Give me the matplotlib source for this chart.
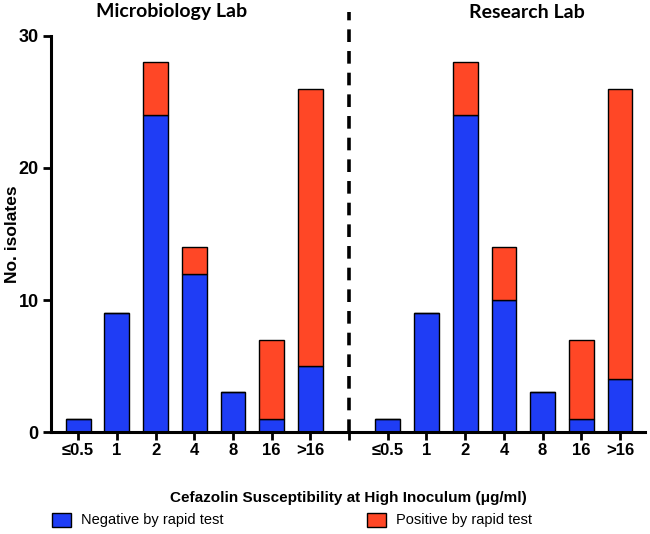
import matplotlib
matplotlib.use("Agg")
import matplotlib.pyplot as plt
from matplotlib.patches import Patch
import numpy as np

# MIC categories (same for both labs)
categories = ["≤0.5", "1", "2", "4", "8", "16", ">16"]

# Microbiology Lab counts
micro_neg = [1, 9, 24, 12, 3, 1, 5]
micro_pos = [0, 0, 4, 2, 0, 6, 21]

# Research Lab counts
research_neg = [1, 9, 24, 10, 3, 1, 4]
research_pos = [0, 0, 4, 4, 0, 6, 22]

panel_titles = ["Microbiology Lab", "Research Lab"]

BLUE = "#1f3df5"
RED = "#ff4726"

fig = plt.figure(figsize=(6.5, 5.34), dpi=100)
ax = fig.add_axes([0.0785, 0.191, 0.9135, 0.7416])

n = len(categories)
x_left = np.arange(n)
x_right = np.arange(n) + n + 1
bar_w = 0.64

for xs, neg, pos in [(x_left, micro_neg, micro_pos), (x_right, research_neg, research_pos)]:
    ax.bar(xs, neg, width=bar_w, color=BLUE, edgecolor="black", linewidth=1.0)
    ax.bar(xs, pos, bottom=neg, width=bar_w, color=RED, edgecolor="black", linewidth=1.0)

# divider between the two labs
ax.axvline(n, ymin=0, ymax=1.06, color="black", linestyle=(0, (3.5, 2.5)),
           linewidth=2.6, clip_on=False)

ticks = list(x_left) + [n] + list(x_right)
ax.set_xticks(ticks)
ax.set_xticklabels(categories + [""] + categories, fontfamily="Liberation Sans",
                   fontweight="bold", fontsize=12)
ax.set_xlim(-0.70, 14.64)
ax.set_ylim(0, 30)
ax.set_yticks([0, 10, 20, 30])
ax.set_yticklabels(["0", "10", "20", "30"], fontfamily="Liberation Sans",
                   fontweight="bold", fontsize=13)

for s in ["top", "right"]:
    ax.spines[s].set_visible(False)
for s in ["left", "bottom"]:
    ax.spines[s].set_linewidth(2.2)
ax.tick_params(axis="both", direction="out", length=6, width=2.0)
ax.tick_params(axis="x", pad=2)
ax.tick_params(axis="y", pad=3)

ax.set_ylabel("No. isolates", fontfamily="Liberation Sans", fontweight="bold",
              fontsize=12.5)
ax.yaxis.set_label_coords(-0.052, 0.5)
ax.set_xlabel("Cefazolin Susceptibility at High Inoculum (μg/ml)",
              fontfamily="Liberation Sans", fontweight="bold", fontsize=11)
ax.xaxis.set_label_coords(0.5, -0.15)

# panel titles
fig.text(171.7 / 650, 1 - 12 / 534, panel_titles[0], ha="center", va="center",
         fontfamily="Lato", fontweight="bold", fontsize=14)
fig.text(526.7 / 650, 1 - 12 / 534, panel_titles[1], ha="center", va="center",
         fontfamily="Lato", fontweight="bold", fontsize=14)

leg_kw = dict(frameon=False, handlelength=1.3, handleheight=1.1,
              handletextpad=0.7, borderaxespad=0,
              prop={"family": "Liberation Sans", "size": 10.5})
fig.legend(handles=[Patch(facecolor=BLUE, edgecolor="black", linewidth=1.0,
                          label="Negative by rapid test")],
           loc="center left", bbox_to_anchor=(46 / 650, 1 - 520 / 534), **leg_kw)
fig.legend(handles=[Patch(facecolor=RED, edgecolor="black", linewidth=1.0,
                          label="Positive by rapid test")],
           loc="center left", bbox_to_anchor=(361 / 650, 1 - 520 / 534), **leg_kw)

fig.savefig("out.png", dpi=100)
